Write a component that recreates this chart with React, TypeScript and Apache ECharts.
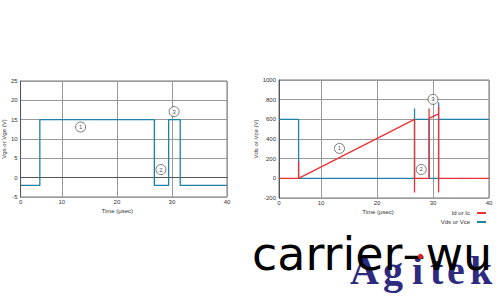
import React, { useEffect, useRef } from "react";
import * as echarts from "echarts";

// ---- data ----
const X_MIN = 2.5;
const X_MAX = 40;
const X_TICK_VALUES = [2.5, 10, 20, 30, 40];
const X_TICK_LABELS = ["0", "10", "20", "30", "40"];

// left chart: gate voltage
const VGE_T = [2.5, 6, 6, 26.8, 26.8, 29.4, 29.4, 31.5, 31.5, 40];
const VGE_V = [-2, -2, 15, 15, -2, -2, 15, 15, -2, -2];
const LEFT_NOTES_T = [13.4, 28.0, 30.4];
const LEFT_NOTES_V = [13.1, 2.1, 17.1];

// right chart: collector voltage & current
const VCE_T = [2.5, 6, 6, 26.7, 26.7, 26.7, 29.3, 29.3, 31.0, 31.0, 31.0, 40];
const VCE_V = [600, 600, 0, 0, 710, 600, 600, 0, 0, 770, 600, 600];
const IC_T = [2.5, 6, 6, 6, 26.7, 26.7, 26.7, 29.3, 29.3, 29.3, 31.0, 31.0, 31.0, 31.0, 40];
const IC_V = [0, 0, 175, 0, 600, -145, 0, 0, 710, 610, 655, 730, -145, 0, 0];
const RIGHT_NOTES_T = [13.3, 27.9, 30.0];
const RIGHT_NOTES_V = [304, 90, 803];
const NOTE_LABELS = ["1", "2", "3"];

const LEGEND_NAMES = ["Id or Ic", "Vds or Vce"];

const BLUE = "#1f80a8";
const RED = "#ec3038";
const GRID_COLOR = "#9a9a9a";
const AXIS_COLOR = "#555";
const FONT = "Liberation Sans";

const pairs = (t: number[], v: number[]) => t.map((x, i) => [x, v[i]]);

function xAxis(gridIndex: number, padRight: number) {
  return {
    type: "value",
    gridIndex,
    min: X_MIN,
    max: X_MAX,
    name: "Time (µsec)",
    nameLocation: "middle",
    nameGap: 11,
    nameTextStyle: { fontSize: 6, color: "#333", fontFamily: FONT, padding: [0, padRight, 0, 0] },
    axisLine: { show: true, lineStyle: { color: AXIS_COLOR, width: 1 } },
    axisTick: { show: false, customValues: X_TICK_VALUES },
    axisLabel: {
      customValues: X_TICK_VALUES,
      fontSize: 6,
      color: "#333",
      fontFamily: FONT,
      margin: 2,
      formatter: (v: number) => {
        const i = X_TICK_VALUES.indexOf(v);
        return i >= 0 ? X_TICK_LABELS[i] : "";
      },
    },
    splitLine: { show: true, lineStyle: { color: GRID_COLOR, width: 1 } },
  };
}

function yAxis(gridIndex: number, min: number, max: number, interval: number, name: string, gap: number) {
  return {
    type: "value",
    gridIndex,
    min,
    max,
    interval,
    name,
    nameLocation: "middle",
    nameGap: gap,
    nameTextStyle: { fontSize: 6, color: "#333", fontFamily: FONT },
    axisLine: { show: true, lineStyle: { color: AXIS_COLOR, width: 1 } },
    axisTick: { show: false },
    axisLabel: {
      fontSize: 6,
      color: "#333",
      fontFamily: FONT,
      margin: 3,
      formatter: (v: number) => String(v),
    },
    splitLine: { show: true, lineStyle: { color: GRID_COLOR, width: 1 } },
  };
}

function notes(name: string, xi: number, t: number[], v: number[]) {
  return {
    name,
    type: "scatter",
    xAxisIndex: xi,
    yAxisIndex: xi,
    symbol: "circle",
    symbolSize: 10,
    silent: true,
    z: 5,
    itemStyle: { color: "#fff", borderColor: "#333", borderWidth: 0.8 },
    label: {
      show: true,
      position: "inside",
      fontSize: 6,
      color: "#222",
      fontFamily: FONT,
      formatter: (p: any) => NOTE_LABELS[p.dataIndex],
    },
    data: pairs(t, v),
  };
}

const AGITEK_LETTERS = ["A", "g", "i", "t", "e", "k"];
const AGITEK_X = [350, 383, 412, 430, 447, 470];

export default function App() {
  const ref = useRef<HTMLDivElement>(null);
  useEffect(() => {
    const chart = echarts.init(ref.current!, null, { renderer: "svg" });
    const line = (name: string, xi: number, data: number[][], color: string, z: number) => ({
      name,
      type: "line",
      xAxisIndex: xi,
      yAxisIndex: xi,
      data,
      showSymbol: false,
      symbol: "none",
      z,
      lineStyle: { color, width: 1.3 },
      itemStyle: { color },
    });
    chart.setOption({
      animation: false,
      backgroundColor: "#fff",
      grid: [
        { left: 20, top: 81, width: 207, height: 116, show: true, borderColor: "#777", borderWidth: 1 },
        { left: 279, top: 80, width: 210, height: 118, show: true, borderColor: "#777", borderWidth: 1 },
      ],
      xAxis: [xAxis(0, 13), xAxis(1, 12)],
      yAxis: [
        yAxis(0, -5, 25, 5, "Vgs or Vge (V)", 12),
        yAxis(1, -200, 1000, 200, "Vds or Vce (V)", 16),
      ],
      legend: {
        data: LEGEND_NAMES,
        orient: "vertical",
        right: 9,
        top: 205,
        align: "right",
        icon: "rect",
        itemWidth: 9,
        itemHeight: 2,
        itemGap: 3,
        textStyle: { fontSize: 6, color: "#333", fontFamily: FONT, padding: [0, 2, 0, 0] },
      },
      series: [
        line("Vge", 0, pairs(VGE_T, VGE_V), BLUE, 2),
        notes("notesL", 0, LEFT_NOTES_T, LEFT_NOTES_V),
        line(LEGEND_NAMES[1], 1, pairs(VCE_T, VCE_V), BLUE, 2),
        line(LEGEND_NAMES[0], 1, pairs(IC_T, IC_V), RED, 3),
        notes("notesR", 1, RIGHT_NOTES_T, RIGHT_NOTES_V),
      ],
      graphic: [
        ...AGITEK_LETTERS.map((ch, i) => ({
          type: "text",
          x: AGITEK_X[i],
          y: 270.5,
          z: 10,
          style: {
            text: ch,
            font: 'bold 40px "Liberation Serif"',
            fill: "#2d2a80",
            textAlign: "left",
            textVerticalAlign: "middle",
          },
        })),
        {
          type: "text",
          x: 252,
          y: 253.5,
          z: 11,
          style: {
            text: "carrier–wu",
            font: '46px "DejaVu Sans"',
            fill: "#000",
            textAlign: "left",
            textVerticalAlign: "middle",
          },
        },
        {
          type: "circle",
          z: 12,
          shape: { cx: 420.5, cy: 256.5, r: 2.6 },
          style: { fill: "#e02020" },
        },
      ],
    });
    return () => chart.dispose();
  }, []);
  return (
    <div
      ref={ref}
      style={{ position: "absolute", left: 0, top: 0, width: 500, height: 300 }}
    />
  );
}
